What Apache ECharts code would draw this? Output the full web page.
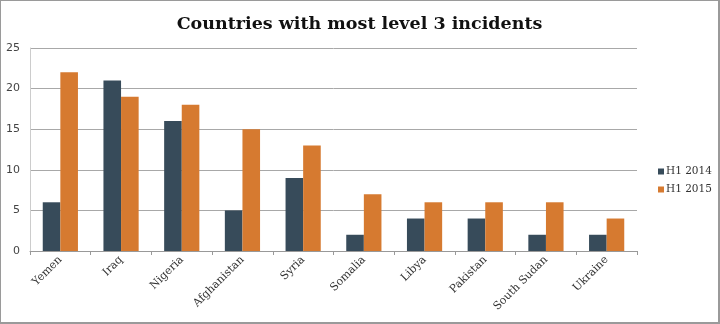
<!DOCTYPE html>
<html><head><meta charset="utf-8">
<script src="https://cdn.jsdelivr.net/npm/echarts@6/dist/echarts.min.js"></script>
<style>html,body{margin:0;padding:0;background:#fff}#c{width:720px;height:324px;box-sizing:border-box;border:1px solid #9a9a9a;border-bottom-width:2px;border-right-width:2px}</style>
</head><body><div id="c"></div>
<script>
const categories = ["Yemen","Iraq","Nigeria","Afghanistan","Syria","Somalia","Libya","Pakistan","South Sudan","Ukraine"];
const h1_2014 = [6,21,16,5,9,2,4,4,2,2];
const h1_2015 = [22,19,18,15,13,7,6,6,6,4];
const yTicks = [0,5,10,15,20,25];
const seriesNames = ["H1 2014","H1 2015"];
const chart = echarts.init(document.getElementById('c'), null, {renderer:'canvas'});
const serif = "'DejaVu Serif', serif";
chart.setOption({
  animation:false,
  title:{text:"Countries with most level 3 incidents",left:'center',top:9,
    textStyle:{fontFamily:serif,fontWeight:'bold',fontSize:17.5,color:'#111'}},
  legend:{orient:'vertical',left:652,top:160,itemWidth:6,itemHeight:6,itemGap:7,icon:'rect',
    textStyle:{fontFamily:serif,fontSize:10.5,color:'#333',padding:[0,0,0,-3]},data:seriesNames},
  grid:{left:29,right:81,top:47,bottom:71,containLabel:false},
  xAxis:{type:'category',data:categories,
    axisLine:{lineStyle:{color:'#999'}},
    axisTick:{show:true,length:4,lineStyle:{color:'#999'}},
    axisLabel:{rotate:45,interval:0,fontFamily:serif,fontSize:11,color:'#333',margin:7}},
  yAxis:{type:'value',min:yTicks[0],max:yTicks[yTicks.length-1],interval:5,
    axisLine:{show:true,lineStyle:{color:'#ccc'}},
    axisTick:{show:false},
    axisLabel:{fontFamily:"Verdana,'DejaVu Sans',sans-serif",fontSize:11,color:'#444',margin:10},
    splitLine:{lineStyle:{color:'#a8a8a8'}}},
  series:[
    {name:seriesNames[0],type:'bar',data:h1_2014,itemStyle:{color:'#374b5a'},barGap:'0%',barCategoryGap:'42%'},
    {name:seriesNames[1],type:'bar',data:h1_2015,itemStyle:{color:'#d67a30'},barGap:'0%',barCategoryGap:'42%'}
  ]
});
</script></body></html>
